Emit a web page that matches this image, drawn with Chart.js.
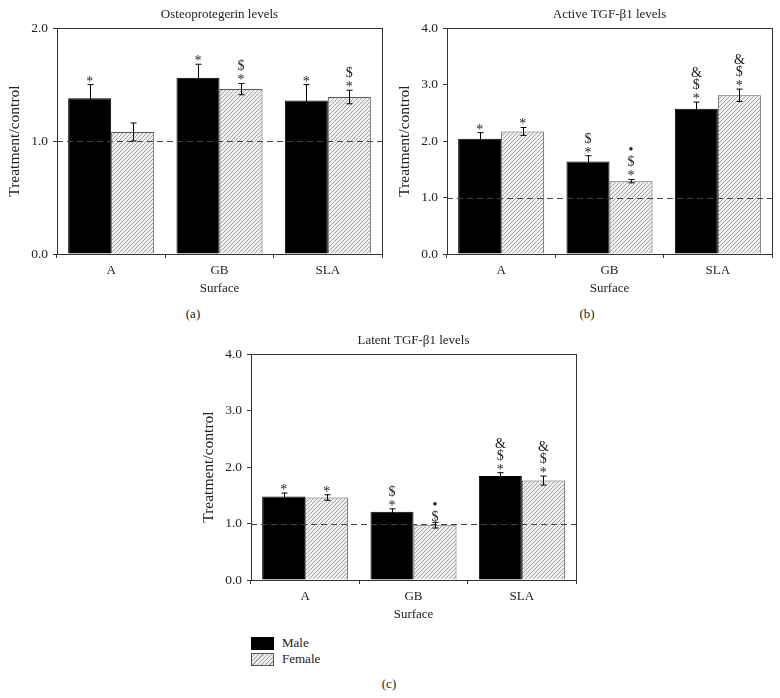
<!DOCTYPE html>
<html>
<head>
<meta charset="utf-8">
<script src="https://cdn.jsdelivr.net/npm/chart.js@4.4.1/dist/chart.umd.min.js"></script>
<style>
  html, body { margin: 0; padding: 0; background: #fff; }
  body { width: 780px; height: 698px; position: relative; overflow: hidden;
         font-family: "Liberation Serif", "DejaVu Serif", serif; color: #222; }
  .panel { position: absolute; width: 390px; height: 300px; }
  .tag { position: absolute; font-size: 13px; transform: translate(-50%, -50%); }
  .legend { position: absolute; left: 251px; top: 635px; font-size: 13px; line-height: 16px; }
  .legend div { display: flex; align-items: center; height: 16px; }
  .sw { width: 21px; height: 11px; margin-right: 8px; box-sizing: content-box; }
  .sw.male { background: #000; border: 1px solid #000; }
  .sw.female { border: 1px solid #555;
    background: repeating-linear-gradient(-45deg, #eee 0 2px, #a5a5a5 2px 3px); }
</style>
</head>
<body>
<div class="panel" style="left:0;top:0"><canvas id="chartA" width="390" height="300"></canvas></div>
<div class="panel" style="left:390px;top:0"><canvas id="chartB" width="390" height="300"></canvas></div>
<div class="panel" style="left:194px;top:326px"><canvas id="chartC" width="390" height="300"></canvas></div>
<div class="tag" style="left:193px;top:314px">(a)</div>
<div class="tag" style="left:587px;top:314px">(b)</div>
<div class="tag" style="left:389px;top:684px">(c)</div>
<div class="legend">
  <div><span class="sw male"></span>Male</div>
  <div><span class="sw female"></span>Female</div>
</div>
<script>
const surfaces = ["A", "GB", "SLA"];

// (a) Osteoprotegerin
const opgTicks = [0, 1, 2];
const opgMale = [1.38, 1.56, 1.36];
const opgMaleErr = [0.12, 0.12, 0.14];
const opgFemale = [1.08, 1.46, 1.39];
const opgFemaleErr = [0.08, 0.05, 0.06];
const opgMaleMarks = [["*"], ["*"], ["*"]];
const opgFemaleMarks = [[], ["*", "$"], ["*", "$"]];

// (b) Active TGF-β1
const activeTicks = [0, 1, 2, 3, 4];
const activeMale = [2.04, 1.64, 2.57];
const activeMaleErr = [0.11, 0.10, 0.12];
const activeFemale = [2.17, 1.29, 2.81];
const activeFemaleErr = [0.07, 0.03, 0.11];
const activeMaleMarks = [["*"], ["*", "$"], ["*", "$", "&"]];
const activeFemaleMarks = [["*"], ["*", "$", "•"], ["*", "$", "&"]];

// (c) Latent TGF-β1
const latentTicks = [0, 1, 2, 3, 4];
const latentMale = [1.48, 1.21, 1.84];
const latentMaleErr = [0.06, 0.05, 0.06];
const latentFemale = [1.46, 0.97, 1.76];
const latentFemaleErr = [0.05, 0.05, 0.08];
const latentMaleMarks = [["*"], ["*", "$"], ["*", "$", "&"]];
const latentFemaleMarks = [["*"], ["$", "•"], ["*", "$", "&"]];

const FONT = "'Liberation Serif', 'DejaVu Serif', serif";

function hatch() {
  const c = document.createElement("canvas");
  c.width = 4; c.height = 4;
  const g = c.getContext("2d");
  g.fillStyle = "#f0f0f0";
  g.fillRect(0, 0, 4, 4);
  g.fillStyle = "#a3a3a3";
  for (let i = 0; i < 4; i++) g.fillRect(i, 3 - i, 1, 1);
  return g.createPattern(c, "repeat");
}

// error bars, significance marks, dashed control line and the plot frame
const extras = {
  id: "extras",
  afterDatasetsDraw(chart, args, opts) {
    const ctx = chart.ctx;
    const area = chart.chartArea;
    const y = chart.scales.y;
    ctx.save();

    // control level
    const yr = Math.round(y.getPixelForValue(1)) + 0.5;
    ctx.strokeStyle = "#444";
    ctx.lineWidth = 1;
    ctx.setLineDash([6, 4]);
    ctx.beginPath();
    ctx.moveTo(area.left, yr);
    ctx.lineTo(area.right, yr);
    ctx.stroke();
    ctx.setLineDash([]);

    chart.data.datasets.forEach((ds, i) => {
      const meta = chart.getDatasetMeta(i);
      meta.data.forEach((bar, j) => {
        const v = ds.data[j];
        const e = opts.errors[i][j];
        const x = Math.round(bar.x) + 0.5;
        const top = y.getPixelForValue(v + e);
        const bot = y.getPixelForValue(v - e);
        ctx.strokeStyle = "#000";
        ctx.beginPath();
        ctx.moveTo(x, top); ctx.lineTo(x, bot);
        ctx.moveTo(x - 3, top); ctx.lineTo(x + 3, top);
        ctx.moveTo(x - 3, bot); ctx.lineTo(x + 3, bot);
        ctx.stroke();

        ctx.fillStyle = "#222";
        ctx.font = "14px " + FONT;
        ctx.textAlign = "center";
        ctx.textBaseline = "alphabetic";
        opts.marks[i][j].forEach((s, k) => {
          const m = ctx.measureText(s);
          const cy = top - 6 - 12 * k;
          const base = cy + (m.actualBoundingBoxAscent - m.actualBoundingBoxDescent) / 2;
          ctx.fillText(s, bar.x, base);
        });
      });
    });

    ctx.strokeStyle = "#333";
    ctx.strokeRect(Math.round(area.left) + 0.5, Math.round(area.top) + 0.5,
      Math.round(area.right - area.left), Math.round(area.bottom - area.top));
    ctx.restore();
  }
};

function makeChart(id, title, ticks, male, maleErr, female, femaleErr, maleMarks, femaleMarks) {
  return new Chart(document.getElementById(id), {
    type: "bar",
    data: {
      labels: surfaces,
      datasets: [
        { label: "Male", data: male, backgroundColor: "#000", borderColor: "#000", borderWidth: 1 },
        { label: "Female", data: female, backgroundColor: hatch(), borderColor: "#555", borderWidth: 1 }
      ]
    },
    options: {
      responsive: false,
      animation: false,
      layout: { padding: { left: 0, right: 8, top: 0, bottom: 0 } },
      datasets: { bar: { categoryPercentage: 0.794, barPercentage: 1 } },
      plugins: {
        legend: { display: false },
        tooltip: { enabled: false },
        title: {
          display: true, text: title, fullSize: false, color: "#222",
          font: { family: FONT, size: 13, weight: "normal" },
          padding: { top: 6.5, bottom: 6 }
        },
        extras: { errors: [maleErr, femaleErr], marks: [maleMarks, femaleMarks] }
      },
      scales: {
        x: {
          grid: { display: true, offset: true, drawOnChartArea: false, tickLength: 4, color: "#333" },
          border: { color: "#333" },
          ticks: { color: "#222", padding: 5, font: { family: FONT, size: 13 } },
          title: { display: true, text: "Surface", color: "#222",
                   font: { family: FONT, size: 13 }, padding: { top: 0, bottom: 3.5 } },
          afterFit: (s) => { s.height = 46; }
        },
        y: {
          min: ticks[0], max: ticks[ticks.length - 1],
          afterBuildTicks: (s) => { s.ticks = ticks.map((v) => ({ value: v })); },
          grid: { drawOnChartArea: false, tickLength: 4, color: "#333" },
          border: { color: "#333" },
          ticks: { color: "#222", padding: 5, font: { family: FONT, size: 13.5 },
                   callback: (v) => Number(v).toFixed(1) },
          title: { display: true, text: "Treatment/control", color: "#222",
                   font: { family: FONT, size: 15.5 }, padding: { top: 6, bottom: 0 } },
          afterFit: (s) => { s.width = 57; }
        }
      }
    },
    plugins: [extras]
  });
}

makeChart("chartA", "Osteoprotegerin levels", opgTicks,
  opgMale, opgMaleErr, opgFemale, opgFemaleErr, opgMaleMarks, opgFemaleMarks);
makeChart("chartB", "Active TGF-β1 levels", activeTicks,
  activeMale, activeMaleErr, activeFemale, activeFemaleErr, activeMaleMarks, activeFemaleMarks);
makeChart("chartC", "Latent TGF-β1 levels", latentTicks,
  latentMale, latentMaleErr, latentFemale, latentFemaleErr, latentMaleMarks, latentFemaleMarks);
</script>
</body>
</html>
